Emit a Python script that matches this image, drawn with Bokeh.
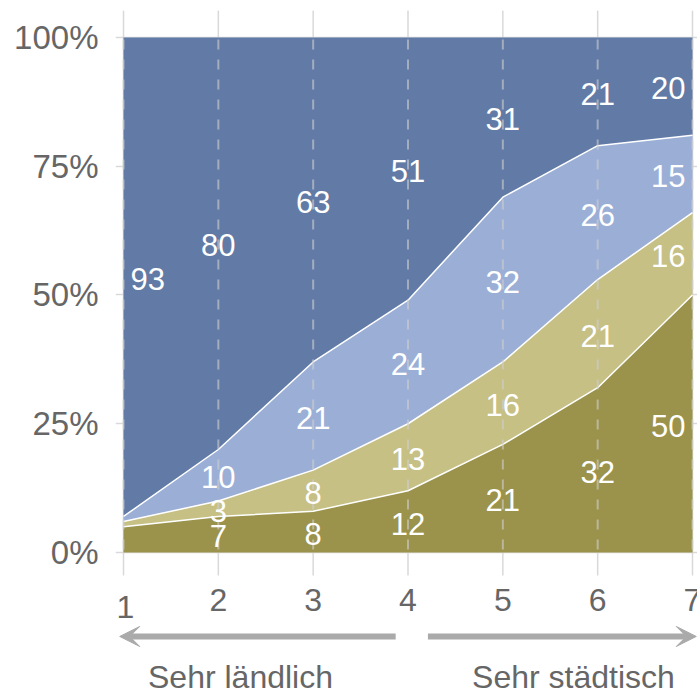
import numpy as np
from bokeh.plotting import figure
from bokeh.models import Range1d, FixedTicker, PrintfTickFormatter, ColumnDataSource, Arrow, VeeHead, Label
from bokeh.core.properties import value
from bokeh.embed import file_html
from bokeh.resources import INLINE

# ---- data ----
x = [1, 2, 3, 4, 5, 6, 7]
x_tick_labels = ["1", "2", "3", "4", "5", "6", "7"]
y_ticks = [0, 25, 50, 75, 100]
s1 = [5, 7, 8, 12, 21, 32, 50]      # dark olive (bottom)
s2 = [1, 3, 8, 13, 16, 21, 16]      # light olive
s3 = [1, 10, 21, 24, 32, 26, 15]    # light blue
s4 = [93, 80, 63, 51, 31, 21, 20]   # dark blue (top)
series = [s1, s2, s3, s4]
colors = ["#9B934B", "#C6C085", "#9BAFD6", "#627BA6"]
left_text = "Sehr ländlich"
right_text = "Sehr städtisch"

FONT = "Liberation Sans"
GRAY = "#666666"
GRID = "#d9d9d9"

p = figure(width=697, height=694, output_backend="svg", toolbar_location=None,
           x_range=Range1d(0.9156, 7.0527), y_range=Range1d(-27.57, 105.24),
           x_axis_location=None, min_border_left=115, min_border_right=0,
           min_border_top=10, min_border_bottom=0)
p.outline_line_color = None
p.background_fill_color = "white"
p.border_fill_color = "white"
p.xgrid.visible = False
p.ygrid.ticker = FixedTicker(ticks=y_ticks)
p.ygrid.grid_line_color = GRID
p.ygrid.grid_line_width = 1.5

ax = p.yaxis[0]
ax.ticker = FixedTicker(ticks=y_ticks)
ax.formatter = PrintfTickFormatter(format="%d%%")
ax.axis_line_color = None
ax.major_tick_line_color = None
ax.minor_tick_line_color = None
ax.major_tick_out = 0
ax.major_tick_in = 0
ax.minor_tick_out = 0
ax.major_label_standoff = 17
ax.major_label_text_font = FONT
ax.major_label_text_font_size = "33px"
ax.major_label_text_color = GRAY

xa = np.array(x, dtype=float)
n = len(x)
# vertical grid lines (full height of plot frame top to just below 0)
p.segment(x0=xa, y0=np.full(n, -4.47), x1=xa, y1=np.full(n, 105.3),
          line_color=GRID, line_width=1.5)

# stacked areas
lower = np.zeros(n)
bounds = []
for vals, col in zip(series, colors):
    upper = np.minimum(lower + np.array(vals, dtype=float), 100)
    p.varea(x=xa, y1=lower, y2=upper, fill_color=col)
    bounds.append((lower.copy(), upper.copy()))
    lower = upper

# white boundary lines
for lo, up in bounds[:-1]:
    p.line(xa, up, line_color="white", line_width=1.5)

# dashed vertical lines over areas
p.segment(x0=xa, y0=np.zeros(n), x1=xa, y1=np.full(n, 100),
          line_color="#cfcfcf", line_alpha=0.6, line_width=2, line_dash="10 10",
          line_dash_offset=-3)

# value labels
lx, ly, lt, la, lo_ = [], [], [], [], []
for vals, (lo, up) in zip(series, bounds):
    for j in range(n):
        v = vals[j]
        if v < 3 or (j == 0 and v < 10):
            continue
        lx.append(xa[j]); ly.append((lo[j] + up[j]) / 2); lt.append(str(v))
        if j == 0:
            la.append("left"); lo_.append(7)
        elif j == n - 1:
            la.append("right"); lo_.append(-7)
        else:
            la.append("center"); lo_.append(0)
src = ColumnDataSource(dict(x=lx, y=ly, t=lt, a=la, o=lo_))
p.text(x="x", y="y", text="t", source=src, text_align="a", x_offset="o", y_offset=2,
       text_baseline="middle", text_color="white", text_font=value(FONT),
       text_font_size="31px")

# x tick labels (first one sits slightly lower, as in the original)
tdx = [2] + [0] * (n - 1)
tdy = [7] + [0] * (n - 1)
p.text(x=xa, y=np.full(n, -9.3), text=x_tick_labels, text_align="center",
       x_offset=tdx, y_offset=tdy,
       text_baseline="middle", text_color=GRAY, text_font=value(FONT), text_font_size="32px")

# arrows
head_l = VeeHead(size=20, fill_color="#aaaaaa", line_color="#aaaaaa")
head_r = VeeHead(size=20, fill_color="#aaaaaa", line_color="#aaaaaa")
p.add_layout(Arrow(end=head_l, x_start=3.87, y_start=-16.3, x_end=0.96, y_end=-16.3,
                   line_color="#aaaaaa", line_width=6))
p.add_layout(Arrow(end=head_r, x_start=4.21, y_start=-16.3, x_end=7.04, y_end=-16.3,
                   line_color="#aaaaaa", line_width=6))

p.add_layout(Label(x=2.234, y=-24.2, text=left_text, text_align="center", text_baseline="middle",
                   text_color=GRAY, text_font=FONT, text_font_size="32px"))
p.add_layout(Label(x=5.745, y=-24.2, text=right_text, text_align="center", text_baseline="middle",
                   text_color=GRAY, text_font=FONT, text_font_size="32px"))

open("out.html", "w").write(file_html(p, INLINE))
